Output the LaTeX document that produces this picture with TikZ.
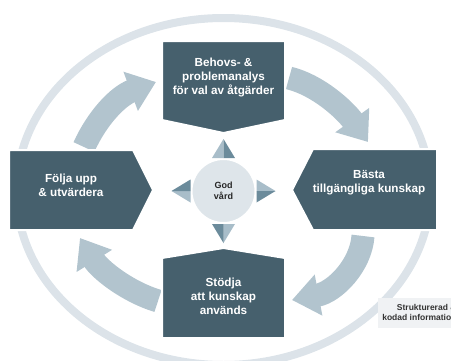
\documentclass[tikz,border=0pt]{standalone}
\usepackage{fontspec}
\setmainfont{Liberation Sans}
\usetikzlibrary{arrows.meta}

\definecolor{boxblue}{HTML}{46606D}
\definecolor{arrowgray}{HTML}{B2C4CE}
\definecolor{ringgray}{HTML}{DCE3E9}
\definecolor{hubgray}{HTML}{DEE5EA}
\definecolor{tiplight}{HTML}{A8BDC9}
\definecolor{tipdark}{HTML}{6B8B9B}
\definecolor{notegray}{HTML}{F0F2F4}

\begin{document}
\begin{tikzpicture}[x=1pt,y=-1pt,
  every node/.style={font=\bfseries\fontsize{11.7}{14}\selectfont, text=white, align=center},
  stepbox/.style={fill=boxblue, draw=white, line width=2pt},
  cyclearrow/.style={draw=arrowgray, line width=23pt, -{Triangle[width=40pt,length=27pt]}}]
  \useasboundingbox (0,0) rectangle (451,360);

  % Outer ring
  \draw[ringgray, line width=8pt] (223.5,191.5) ellipse [x radius=207, y radius=173.5];

  % Note at the lower right
  \fill[notegray] (378,298) rectangle (451,328);
  \node (note) [anchor=east, align=right, text=black!80,
    font=\bfseries\fontsize{8.5}{10}\selectfont] at (460,312) {Strukturerad \&\\kodad information};

  % Ends of the cycle arrows
  \coordinate (tlStart) at (84,147);
  \coordinate (tlEnd) at (156,82);
  \coordinate (trStart) at (289,78);
  \coordinate (trEnd) at (368,142);
  \coordinate (brStart) at (363,236);
  \coordinate (brEnd) at (292,300);
  \coordinate (blStart) at (158,301);
  \coordinate (blEnd) at (80,238);

  % Cycle arrows, clockwise
  \draw[cyclearrow] (tlStart) .. controls (97,118) and (118,96) .. (tlEnd);
  \draw[cyclearrow] (trStart) .. controls (318,85) and (345,110) .. (trEnd);
  \draw[cyclearrow] (brStart) .. controls (361,265) and (335,292) .. (brEnd);
  \draw[cyclearrow] (blStart) .. controls (128,292) and (100,270) .. (blEnd);

  % Top box
  \path[stepbox] (162,41) -- (285,41) -- (285,120) -- (223.5,133) -- (162,120) -- cycle;
  \node (needs) at (223.5,77) {Behovs- \&\\problemanalys\\för val av åtgärder};

  % Right box
  \path[stepbox] (313,149) -- (437,149) -- (437,230) -- (313,230) -- (292,190) -- cycle;
  \node (best) at (369,183) {Bästa\\tillgängliga kunskap};

  % Bottom box
  \path[stepbox] (162,258) -- (223.5,248) -- (285,258) -- (285,338) -- (162,338) -- cycle;
  \node (support) at (223.5,296) {Stödja\\att kunskap\\används};

  % Left box
  \path[stepbox] (9,150) -- (133,150) -- (153,190) -- (133,230) -- (9,230) -- cycle;
  \node (follow) at (71,185) {Följa upp\\\& utvärdera};

  % Centre
  \node (hub) [circle, fill=hubgray, draw=white, line width=2pt, minimum size=64pt,
    text=black!85, font=\bfseries\fontsize{9}{11}\selectfont] at (223.5,191) {God\\vård};

  % Small pointers round the centre
  \foreach \a in {0,90,180,270} {
    \begin{scope}[shift={(hub.center)}, rotate=\a]
      \fill[tiplight] (0,-52) -- (-11.5,-33) -- (0,-33) -- cycle;
      \fill[tipdark] (0,-52) -- (0,-33) -- (11.5,-33) -- cycle;
    \end{scope}
  }
\end{tikzpicture}
\end{document}
